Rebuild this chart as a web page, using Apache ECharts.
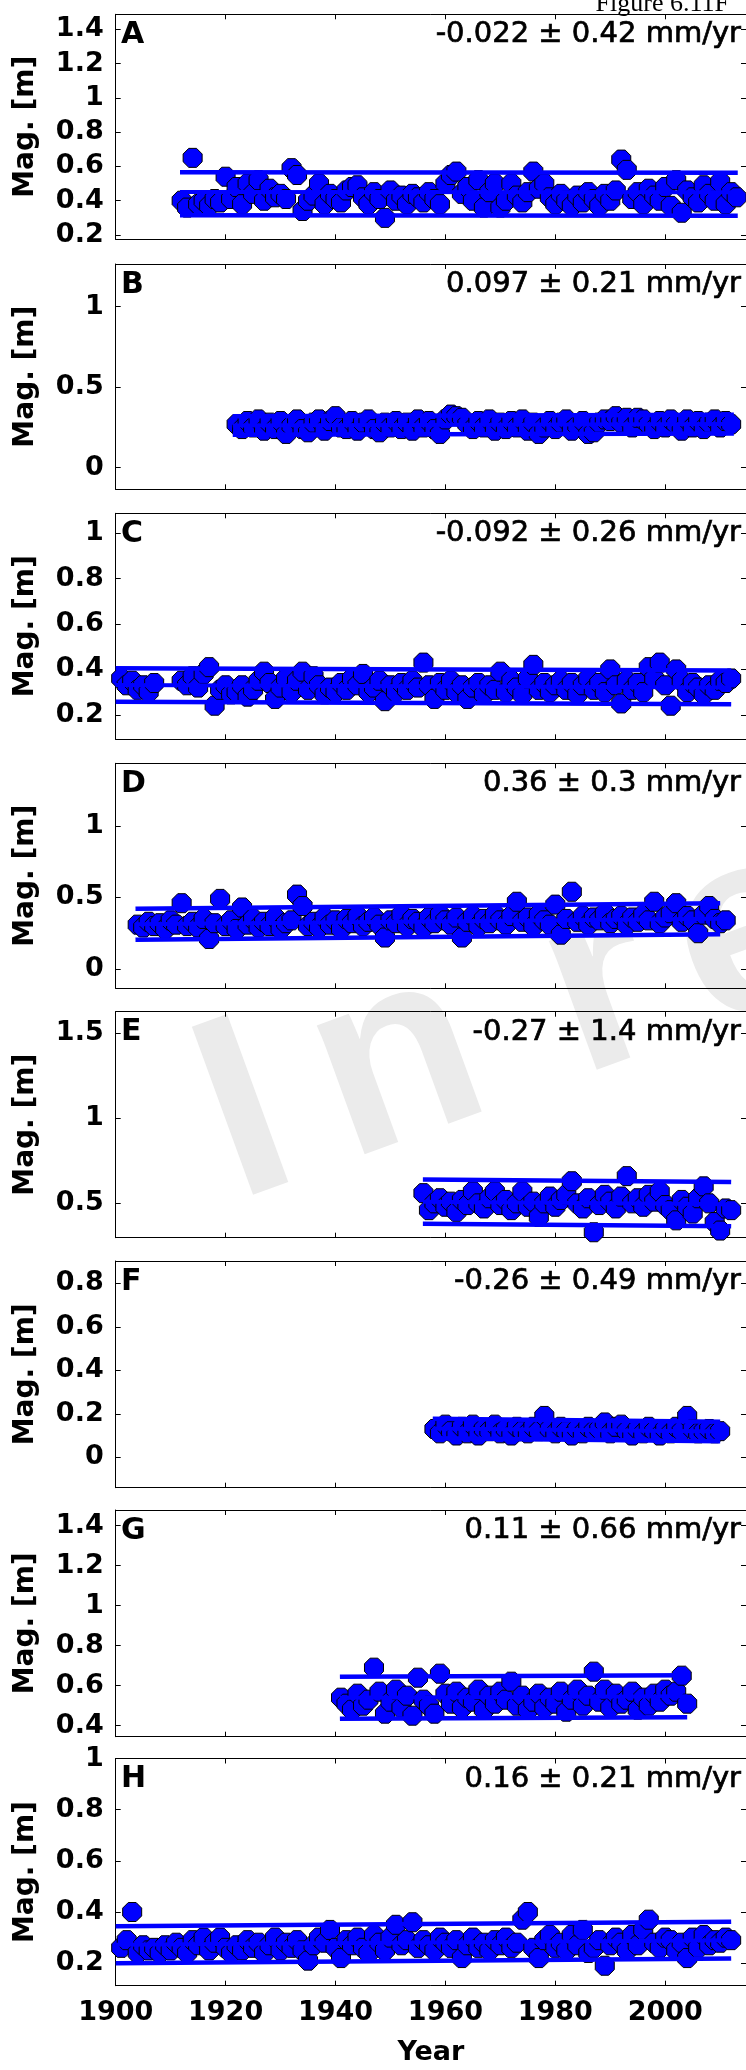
<!DOCTYPE html>
<html>
<head>
<meta charset="utf-8">
<title>Magnitude time series</title>
<script src="https://cdn.jsdelivr.net/npm/echarts@6/dist/echarts.min.js"></script>
<style>
  html, body { margin: 0; padding: 0; background: #ffffff; }
  #chart { width: 746px; height: 2070px; }
</style>
</head>
<body>
<div id="chart"></div>
<script>
// ---- data -------------------------------------------------------------
const panelLetters = ['A', 'B', 'C', 'D', 'E', 'F', 'G', 'H'];
const firstYears = [1912, 1922, 1901, 1904, 1956, 1958, 1941, 1901];

// annual magnitudes [m], one value per year starting at firstYears[i]
const magA = [
  0.40, 0.36, 0.65, 0.38, 0.40, 0.37, 0.41, 0.39, 0.54, 0.41,
  0.48, 0.38, 0.50, 0.44, 0.52, 0.40, 0.47, 0.42, 0.44, 0.41,
  0.59, 0.55, 0.34, 0.40, 0.43, 0.50, 0.38, 0.44, 0.41, 0.39,
  0.46, 0.48, 0.49, 0.42, 0.38, 0.45, 0.41, 0.30, 0.46, 0.40,
  0.43, 0.38, 0.44, 0.42, 0.39, 0.45, 0.41, 0.38, 0.50, 0.55,
  0.57, 0.44, 0.48, 0.40, 0.52, 0.36, 0.45, 0.50, 0.36, 0.40,
  0.50, 0.43, 0.39, 0.45, 0.57, 0.47, 0.50, 0.42, 0.38, 0.44,
  0.40, 0.37, 0.43, 0.39, 0.45, 0.41, 0.37, 0.44, 0.40, 0.46,
  0.64, 0.58, 0.41, 0.45, 0.38, 0.47, 0.43, 0.40, 0.48, 0.37,
  0.52, 0.33, 0.46, 0.42, 0.39, 0.49, 0.44, 0.40, 0.51, 0.38,
  0.45, 0.42
];
const magB = [
  0.27, 0.24, 0.29, 0.25, 0.30, 0.23, 0.28, 0.24, 0.29, 0.21,
  0.26, 0.30, 0.24, 0.22, 0.28, 0.30, 0.23, 0.29, 0.32, 0.25,
  0.24, 0.29, 0.23, 0.28, 0.30, 0.24, 0.22, 0.28, 0.25, 0.29,
  0.24, 0.28, 0.23, 0.30, 0.25, 0.29, 0.24, 0.21, 0.30, 0.33,
  0.32, 0.31, 0.27, 0.24, 0.29, 0.25, 0.30, 0.23, 0.28, 0.24,
  0.29, 0.25, 0.30, 0.23, 0.28, 0.21, 0.25, 0.29, 0.24, 0.28,
  0.30, 0.23, 0.26, 0.29, 0.21, 0.22, 0.28, 0.30, 0.29, 0.32,
  0.28, 0.31, 0.25, 0.31, 0.30, 0.27, 0.24, 0.29, 0.25, 0.30,
  0.27, 0.23, 0.30, 0.25, 0.29, 0.24, 0.28, 0.30, 0.25, 0.29,
  0.27
];
const magC = [
  0.36, 0.33, 0.35, 0.31, 0.33, 0.30, 0.34, null, null, null,
  null, 0.35, 0.33, 0.37, 0.32, 0.38, 0.41, 0.24, 0.31, 0.33,
  0.29, 0.30, 0.33, 0.28, 0.31, 0.35, 0.39, 0.34, 0.27, 0.32,
  0.36, 0.30, 0.35, 0.39, 0.31, 0.37, 0.33, 0.29, 0.32, 0.30,
  0.34, 0.31, 0.36, 0.33, 0.38, 0.30, 0.32, 0.35, 0.26, 0.33,
  0.30, 0.34, 0.31, 0.35, 0.32, 0.43, 0.33, 0.27, 0.34, 0.31,
  0.35, 0.30, 0.33, 0.27, 0.32, 0.34, 0.29, 0.33, 0.31, 0.39,
  0.30, 0.35, 0.32, 0.29, 0.36, 0.42, 0.31, 0.34, 0.30, 0.33,
  0.35, 0.31, 0.34, 0.29, 0.33, 0.36, 0.31, 0.34, 0.30, 0.40,
  0.33, 0.25, 0.35, 0.31, 0.34, 0.30, 0.41, 0.36, 0.43, 0.33,
  0.24, 0.40, 0.35, 0.30, 0.34, 0.32, 0.29, 0.33, 0.31, 0.35,
  0.34, 0.36
];
const magD = [
  0.31, 0.29, 0.33, 0.30, 0.32, 0.28, 0.34, 0.31, 0.46, 0.30,
  0.33, 0.29, 0.35, 0.21, 0.32, 0.49, 0.30, 0.34, 0.28, 0.43,
  0.31, 0.35, 0.29, 0.33, 0.30, 0.36, 0.28, 0.32, 0.34, 0.52,
  0.44, 0.30, 0.33, 0.29, 0.36, 0.31, 0.34, 0.28, 0.35, 0.32,
  0.37, 0.30, 0.33, 0.36, 0.31, 0.22, 0.34, 0.32, 0.38, 0.30,
  0.35, 0.33, 0.29, 0.36, 0.32, 0.38, 0.34, 0.31, 0.36, 0.22,
  0.33, 0.37, 0.30, 0.35, 0.32, 0.38, 0.34, 0.31, 0.37, 0.47,
  0.33, 0.36, 0.30, 0.38, 0.34, 0.31, 0.45, 0.24, 0.35, 0.54,
  0.33, 0.37, 0.31, 0.36, 0.34, 0.39, 0.32, 0.35, 0.37, 0.31,
  0.36, 0.33, 0.38, 0.34, 0.47, 0.32, 0.36, 0.39, 0.46, 0.33,
  0.37, 0.34, 0.25, 0.38, 0.44, 0.35, 0.32, 0.34
];
const magE = [
  0.56, 0.46, 0.50, 0.53, 0.48, 0.51, 0.45, 0.52, 0.49, 0.57,
  0.50, 0.47, 0.53, 0.57, 0.49, 0.52, 0.46, 0.50, 0.57, 0.48,
  0.51, 0.42, 0.50, 0.54, 0.48, 0.52, 0.55, 0.63, 0.50, 0.47,
  0.53, 0.33, 0.49, 0.55, 0.51, 0.47, 0.54, 0.66, 0.50, 0.53,
  0.48, 0.55, 0.51, 0.57, 0.49, 0.46, 0.40, 0.52, 0.48, 0.44,
  0.53, 0.60, 0.50, 0.39, 0.34, 0.47, 0.46
];
const magF = [
  0.13, 0.11, 0.15, 0.12, 0.10, 0.14, 0.11, 0.15, 0.10, 0.13,
  0.12, 0.15, 0.11, 0.13, 0.10, 0.14, 0.12, 0.11, 0.14, 0.12,
  0.19, 0.13, 0.11, 0.14, 0.12, 0.10, 0.13, 0.11, 0.14, 0.12,
  0.13, 0.16, 0.11, 0.14, 0.15, 0.12, 0.10, 0.13, 0.11, 0.14,
  0.12, 0.10, 0.13, 0.11, 0.14, 0.12, 0.19, 0.13, 0.11, 0.12,
  0.13, 0.11, 0.12
];
const magG = [
  0.54, 0.51, 0.48, 0.56, 0.50, 0.53, 0.69, 0.57, 0.46, 0.52,
  0.58, 0.49, 0.55, 0.45, 0.64, 0.53, 0.50, 0.46, 0.66, 0.56,
  0.51, 0.57, 0.49, 0.54, 0.52, 0.58, 0.48, 0.55, 0.51, 0.57,
  0.53, 0.62, 0.50, 0.55, 0.48, 0.52, 0.56, 0.49, 0.54, 0.51,
  0.57, 0.47, 0.53, 0.58, 0.50, 0.55, 0.67, 0.52, 0.58, 0.49,
  0.56, 0.51, 0.53, 0.57, 0.48, 0.54, 0.50, 0.56, 0.52, 0.58,
  0.55, 0.57, 0.65, 0.51
];
const magH = [
  0.26, 0.29, 0.40, 0.24, 0.27, 0.25, 0.26, 0.24, 0.27, 0.25,
  0.28, 0.26, 0.24, 0.29, 0.27, 0.30, 0.25, 0.28, 0.30, 0.26,
  0.24, 0.27, 0.25, 0.29, 0.26, 0.28, 0.24, 0.27, 0.30, 0.25,
  0.28, 0.26, 0.29, 0.25, 0.21, 0.27, 0.30, 0.28, 0.33, 0.26,
  0.22, 0.29, 0.27, 0.30, 0.26, 0.24, 0.31, 0.28, 0.25, 0.30,
  0.35, 0.27, 0.29, 0.36, 0.26, 0.29, 0.27, 0.25, 0.30, 0.28,
  0.26, 0.29, 0.22, 0.27, 0.30, 0.26, 0.28, 0.25, 0.29, 0.27,
  0.30, 0.26, 0.28, 0.37, 0.40, 0.26, 0.22, 0.29, 0.31, 0.26,
  0.28, 0.25, 0.31, 0.27, 0.33, 0.24, 0.26, 0.29, 0.19, 0.27,
  0.30, 0.28, 0.25, 0.31, 0.27, 0.33, 0.37, 0.28, 0.26, 0.30,
  0.29, 0.25, 0.28, 0.22, 0.30, 0.26, 0.31, 0.27, 0.29, 0.28,
  0.30, 0.29
];

// linear trend of each record: rate and its uncertainty [mm/yr]
const trendRates = [-0.022, 0.097, -0.092, 0.36, -0.27, -0.26, 0.11, 0.16];
const trendErrors = [0.42, 0.21, 0.26, 0.3, 1.4, 0.49, 0.66, 0.21];
// years covered by the trend line and trend level [m] at the first year
const trendSpans = [
  [1911.7, 2013.2], [1921.3, 2012.5], [1900, 2012], [1903.6, 2010],
  [1955.9, 2012], [1957.7, 2010], [1940.8, 2004], [1900, 2012]
];
const trendLevels = [0.451, 0.262, 0.331, 0.313, 0.51, 0.132, 0.54, 0.272];
// envelope distance [m] above and below the trend line
const envelopeAbove = [0.115, 0.058, 0.074, 0.108, 0.13, 0.045, 0.105, 0.072];
const envelopeBelow = [0.136, 0.058, 0.074, 0.108, 0.13, 0.045, 0.105, 0.072];

// axes
const yRanges = [
  [0.175, 1.4875], [-0.134, 1.265], [0.092, 1.088], [-0.135, 1.438],
  [0.298, 1.627], [-0.14, 0.9025], [0.345, 1.478], [0.112, 1.0]
];
const yTickValues = [
  [0.2, 0.4, 0.6, 0.8, 1, 1.2, 1.4],
  [0, 0.5, 1],
  [0.2, 0.4, 0.6, 0.8, 1],
  [0, 0.5, 1],
  [0.5, 1, 1.5],
  [0, 0.2, 0.4, 0.6, 0.8],
  [0.4, 0.6, 0.8, 1, 1.2, 1.4],
  [0.2, 0.4, 0.6, 0.8, 1]
];
const yearTicks = [1900, 1920, 1940, 1960, 1980, 2000];
const yearRange = [1900, 2014.7];

// ---- layout & style ------------------------------------------------------
const GRID_LEFT = 115.7;
const GRID_WIDTH = 630.85;
const panelTops = [14.3, 264, 513.3, 763.3, 1011.7, 1261, 1510, 1758.5];
const panelHeights = [225, 225.3, 226, 225, 226, 226.7, 226.7, 227.2];

const SANS = '"DejaVu Sans", "Liberation Sans", Arial, sans-serif';
const SERIF = '"Liberation Serif", "Times New Roman", serif';
const BLUE = '#0000ff';
const OCTAGON = 'path://M-0.41,-1L0.41,-1L1,-0.41L1,0.41L0.41,1L-0.41,1L-1,0.41L-1,-0.41Z';

const tickFont = { color: '#000', fontFamily: SANS, fontWeight: 'bold', fontSize: 27 };
const blackLine = { color: '#000', width: 1 };

function makeXAxis(i, position, withLabels) {
  return {
    type: 'value', gridIndex: i, position: position,
    min: yearRange[0], max: yearRange[1],
    axisLine: { show: true, onZero: false, lineStyle: blackLine },
    axisTick: { show: true, inside: true, length: 5, customValues: yearTicks, lineStyle: blackLine },
    axisLabel: Object.assign({ show: withLabels, customValues: yearTicks, margin: 14,
      formatter: v => String(v) }, tickFont),
    splitLine: { show: false },
    name: withLabels ? 'Year' : '',
    nameLocation: 'middle', nameGap: 54,
    nameTextStyle: tickFont
  };
}

function makeYAxis(i, position, withLabels) {
  return {
    type: 'value', gridIndex: i, position: position,
    min: yRanges[i][0], max: yRanges[i][1],
    axisLine: { show: true, onZero: false, lineStyle: blackLine },
    axisTick: { show: true, inside: true, length: 5, customValues: yTickValues[i], lineStyle: blackLine },
    axisLabel: Object.assign({ show: withLabels, customValues: yTickValues[i], margin: 12,
      formatter: v => String(Math.round(v * 10) / 10) }, tickFont),
    splitLine: { show: false },
    name: withLabels ? 'Mag. [m]' : '',
    nameLocation: 'middle', nameGap: 76,
    nameTextStyle: Object.assign({}, tickFont, { fontSize: 28 })
  };
}

// watermark: letters placed along a tilted baseline (offsets in px along it)
const WATERMARK_SIZE = 260;
const WATERMARK_FONT = 'bold ' + WATERMARK_SIZE + 'px "Liberation Sans", Arial, sans-serif';
const watermarkPieces = [['I', 0], ['n', 118], ['r', 365], ['e', 500], ['view', 655]];
const watermark = {
  type: 'group', x: 243, y: 1218, rotation: 20 * Math.PI / 180, z: -1, silent: true,
  children: watermarkPieces.map(([t, off]) => ({
    type: 'text', x: off, y: 0, z: -1, silent: true,
    style: { text: t, x: 0, y: 0.1535 * WATERMARK_SIZE, align: 'left', verticalAlign: 'bottom',
      font: WATERMARK_FONT, fill: '#ebebeb' }
  }))
};

const records = [magA, magB, magC, magD, magE, magF, magG, magH];
const grids = [], xAxes = [], yAxes = [], series = [];
const graphics = [
  watermark,
  {
    type: 'text', x: 729, y: 4.2, silent: true,
    style: { text: 'Figure 6.11F', align: 'right', verticalAlign: 'middle',
      font: '26px ' + SERIF, fill: '#000' }
  }
];

records.forEach((values, i) => {
  const last = i === records.length - 1;
  grids.push({ left: GRID_LEFT, top: panelTops[i], width: GRID_WIDTH, height: panelHeights[i] });
  xAxes.push(makeXAxis(i, 'bottom', last));
  xAxes.push(makeXAxis(i, 'top', false));
  yAxes.push(makeYAxis(i, 'left', true));
  yAxes.push(makeYAxis(i, 'right', false));

  const points = [];
  values.forEach((v, k) => { if (v !== null) points.push([firstYears[i] + k, v]); });
  series.push({
    type: 'scatter', xAxisIndex: 2 * i, yAxisIndex: 2 * i, data: points,
    symbol: OCTAGON, symbolSize: 19, clip: false, silent: true, z: 2,
    itemStyle: { color: BLUE, borderColor: '#000', borderWidth: 1, opacity: 1 }
  });

  // trend line (slope = stated rate) and the envelope around it
  const [x0, x1] = trendSpans[i];
  const c0 = trendLevels[i];
  const c1 = c0 + trendRates[i] / 1000 * (x1 - x0);
  [envelopeAbove[i], -envelopeBelow[i], 0].forEach(off => {
    series.push({
      type: 'line', xAxisIndex: 2 * i, yAxisIndex: 2 * i,
      data: [[x0, c0 + off], [x1, c1 + off]],
      showSymbol: false, symbol: 'none', silent: true, clip: false, z: 3,
      lineStyle: { color: BLUE, width: off === 0 ? 4 : 4.5, cap: 'butt' }
    });
  });

  graphics.push({
    type: 'text', x: 121, y: panelTops[i] + 21, silent: true,
    style: { text: panelLetters[i], align: 'left', verticalAlign: 'middle',
      font: 'bold 30px ' + SANS, fill: '#000' }
  });
  graphics.push({
    type: 'text', x: 741, y: panelTops[i] + 20.5, silent: true,
    style: { text: String(trendRates[i]) + ' \u00b1 ' + String(trendErrors[i]) + ' mm/yr',
      align: 'right', verticalAlign: 'middle', font: '29px ' + SANS, fill: '#000',
      stroke: '#000', lineWidth: 0.7 }
  });
});

const chart = echarts.init(document.getElementById('chart'), null, { renderer: 'canvas', width: 746, height: 2070 });
chart.setOption({
  animation: false,
  backgroundColor: '#ffffff',
  grid: grids,
  xAxis: xAxes,
  yAxis: yAxes,
  series: series,
  graphic: { elements: graphics }
});
</script>
</body>
</html>
